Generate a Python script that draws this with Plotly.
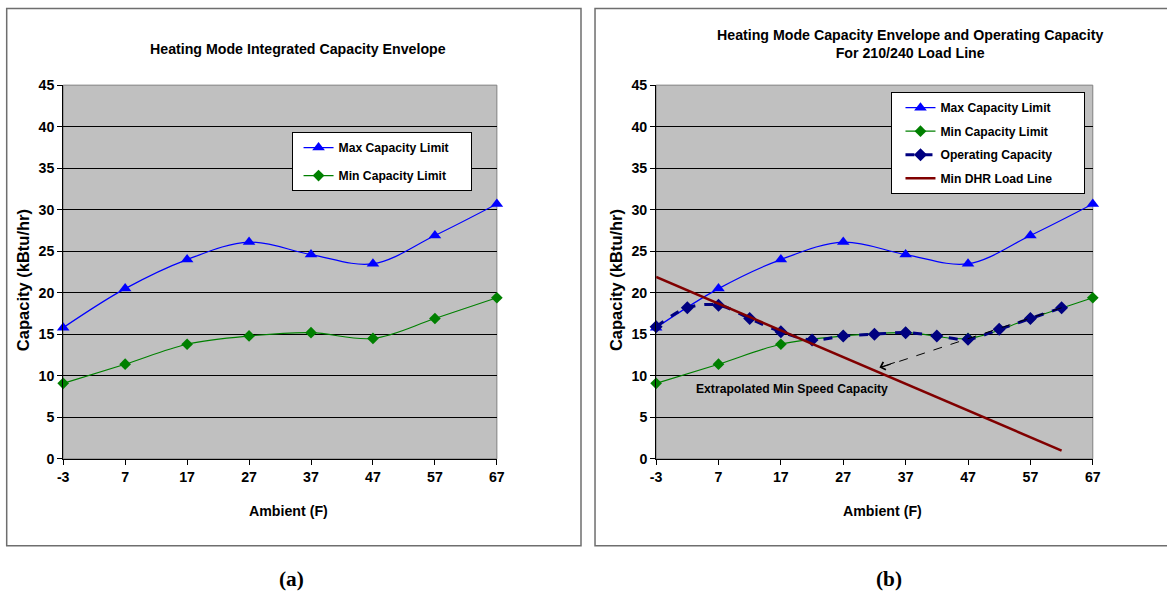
import plotly.graph_objects as go

# ---- data ----
x_env = [-3, 7, 17, 27, 37, 47, 57, 67]
max_cap = [15.8, 20.5, 24.0, 26.1, 24.6, 23.5, 26.9, 30.7]
min_cap = [9.1, 11.4, 13.8, 14.8, 15.2, 14.5, 16.9, 19.4]
x_op = [-3, 2, 7, 12, 17, 22, 27, 32, 37, 42, 47, 52, 57, 62]
op_cap = [15.9, 18.2, 18.5, 16.9, 15.3, 14.3, 14.8, 15.0, 15.2, 14.8, 14.4, 15.6, 16.9, 18.2]
x_load = [-3, 62]
load_cap = [21.9, 1.0]
x_ticks = [-3, 7, 17, 27, 37, 47, 57, 67]
x_ticktext = ["-3", "7", "17", "27", "37", "47", "57", "67"]
y_ticks = [0, 5, 10, 15, 20, 25, 30, 35, 40, 45]

W, H = 1167, 592
M = 8                      # page body margin
SX, SY = (W + 2 * M) / W, (H + 2 * M) / H   # page-to-picture compensation
FONT = "Liberation Sans"
BLUE, GREEN, NAVY, RED = "#0000FF", "#008000", "#000080", "#800000"
NB = "\u00a0"

def px(x):
    # target picture pixel -> paper fraction
    return (x * SX - M) / W

def py(y):
    return (H - (y * SY - M)) / H

def fs(s):
    return round(s * SX, 2)

fig = go.Figure()

# left panel
fig.add_trace(go.Scatter(x=x_env, y=max_cap, name="Max Capacity Limit" + NB * 5, mode="lines+markers",
                         line=dict(color=BLUE, width=1.2, shape="spline"),
                         marker=dict(symbol="triangle-up", size=11, color=BLUE),
                         xaxis="x", yaxis="y", legend="legend", legendgroup="a1", cliponaxis=False))
fig.add_trace(go.Scatter(x=x_env, y=min_cap, name="Min Capacity Limit" + NB * 5, mode="lines+markers",
                         line=dict(color=GREEN, width=1.2, shape="spline"),
                         marker=dict(symbol="diamond", size=9, color=GREEN),
                         xaxis="x", yaxis="y", legend="legend", legendgroup="a2", cliponaxis=False))

# right panel
PAD = NB * 8
fig.add_trace(go.Scatter(x=x_env, y=max_cap, name="Max Capacity Limit" + PAD, mode="lines+markers",
                         line=dict(color=BLUE, width=1.2, shape="spline"),
                         marker=dict(symbol="triangle-up", size=11, color=BLUE),
                         xaxis="x2", yaxis="y2", legend="legend2", legendgroup="b1", cliponaxis=False))
fig.add_trace(go.Scatter(x=x_env, y=min_cap, name="Min Capacity Limit" + PAD, mode="lines+markers",
                         line=dict(color=GREEN, width=1.2, shape="spline"),
                         marker=dict(symbol="diamond", size=9, color=GREEN),
                         xaxis="x2", yaxis="y2", legend="legend2", legendgroup="b2", cliponaxis=False))
fig.add_trace(go.Scatter(x=x_op, y=op_cap, name="Operating Capacity" + PAD, mode="lines+markers",
                         line=dict(color=NAVY, width=3, shape="spline", dash="dash"),
                         marker=dict(symbol="diamond", size=10, color=NAVY),
                         xaxis="x2", yaxis="y2", legend="legend2", legendgroup="b3", cliponaxis=False))
fig.add_trace(go.Scatter(x=x_load, y=load_cap, name="Min DHR Load Line" + PAD, mode="lines",
                         line=dict(color=RED, width=2.5),
                         xaxis="x2", yaxis="y2", legend="legend2", legendgroup="b4", cliponaxis=False))

tickfont = dict(family=FONT, size=fs(14), color="black", weight="bold")
axis_common = dict(range=[-3, 67], tickvals=x_ticks, ticktext=x_ticktext, ticks="outside", ticklen=5,
                   tickcolor="black", showline=True, linecolor="black", linewidth=1, showgrid=False,
                   zeroline=False, tickfont=tickfont)
yaxis_common = dict(range=[0, 45], tickvals=y_ticks, ticks="outside", ticklen=5, tickcolor="black",
                    showline=True, linecolor="black", linewidth=1, showgrid=True, gridcolor="black",
                    gridwidth=1, zeroline=False, tickfont=tickfont)

legfont = dict(family=FONT, size=fs(12), color="black", weight="bold")
y_dom = [py(459), py(85)]
fig.update_layout(
    width=W, height=H, margin=dict(l=0, r=0, t=0, b=0),
    paper_bgcolor="white", plot_bgcolor="#C0C0C0",
    xaxis=dict(domain=[px(65), px(498)], anchor="y", **axis_common),
    yaxis=dict(domain=y_dom, anchor="x", **yaxis_common),
    xaxis2=dict(domain=[px(657), px(1093)], anchor="y2", **axis_common),
    yaxis2=dict(domain=y_dom, anchor="x2", **yaxis_common),
    legend=dict(x=px(293), y=py(132), xanchor="left", yanchor="top", bgcolor="white",
                bordercolor="black", borderwidth=1, traceorder="grouped", tracegroupgap=9,
                indentation=6, font=legfont),
    legend2=dict(x=px(892), y=py(92), xanchor="left", yanchor="top", bgcolor="white",
                 bordercolor="black", borderwidth=1, traceorder="grouped", tracegroupgap=4.5,
                 indentation=8, font=legfont),
    showlegend=True,
)

# frames & plot-area borders
shapes = [
    dict(type="rect", xref="paper", yref="paper", x0=0.0006, x1=px(582), y0=py(546), y1=0.999,
         line=dict(color="#6E6E6E", width=1.5), layer="below"),
    dict(type="rect", xref="paper", yref="paper", x0=px(596), x1=1.05, y0=py(546), y1=0.999,
         line=dict(color="#6E6E6E", width=1.5), layer="below"),
    dict(type="rect", xref="x domain", yref="y domain", x0=0, x1=1, y0=0, y1=1,
         line=dict(color="#808080", width=1), layer="below"),
    dict(type="rect", xref="x2 domain", yref="y2 domain", x0=0, x1=1, y0=0, y1=1,
         line=dict(color="#808080", width=1), layer="below"),
    dict(type="line", xref="x2", yref="y2", x0=62, y0=18.2, x1=33.0, y1=11.0,
         line=dict(color="black", width=1, dash="dash")),
]
fig.update_layout(shapes=shapes)

tfont = dict(family=FONT, size=fs(14), color="black", weight="bold")
afont = dict(family=FONT, size=fs(14), color="black", weight="bold")
yfont = dict(family=FONT, size=16.5, color="black", weight="bold")
lfont = dict(family="Liberation Serif", size=fs(21), color="black", weight="bold")
annots = [
    dict(text="Heating Mode Integrated Capacity Envelope", x=px(299), y=py(49), xref="paper", yref="paper",
         showarrow=False, font=tfont, xanchor="center", yanchor="middle"),
    dict(text="Heating Mode Capacity Envelope and Operating Capacity<br>For 210/240 Load Line",
         x=px(910), y=py(43.5), xref="paper", yref="paper", showarrow=False, font=tfont,
         xanchor="center", yanchor="middle"),
    dict(text="Ambient (F)", x=px(290), y=py(511), xref="paper", yref="paper", showarrow=False,
         font=afont, xanchor="center", yanchor="middle"),
    dict(text="Ambient (F)", x=px(883), y=py(511), xref="paper", yref="paper", showarrow=False,
         font=afont, xanchor="center", yanchor="middle"),
    dict(text="Capacity (kBtu/hr)", x=px(25), y=py(280), xref="paper", yref="paper", showarrow=False,
         font=yfont, textangle=-90, xanchor="center", yanchor="middle"),
    dict(text="Capacity (kBtu/hr)", x=px(617), y=py(280), xref="paper", yref="paper", showarrow=False,
         font=yfont, textangle=-90, xanchor="center", yanchor="middle"),
    dict(text="Extrapolated Min Speed Capacity", x=18.8, y=8.4, xref="x2", yref="y2", showarrow=False,
         font=dict(family=FONT, size=fs(12), color="black", weight="bold"),
         xanchor="center", yanchor="middle"),
    dict(text="", x=32.8, y=11.0, xref="x2", yref="y2", ax=35.5, ay=11.67, axref="x2", ayref="y2",
         showarrow=True, arrowhead=4, arrowsize=1.6, arrowwidth=1, arrowcolor="black"),
    dict(text="(a)", x=px(293), y=py(579), xref="paper", yref="paper", showarrow=False,
         font=lfont, xanchor="center", yanchor="middle"),
    dict(text="(b)", x=px(890), y=py(579), xref="paper", yref="paper", showarrow=False,
         font=lfont, xanchor="center", yanchor="middle"),
]
fig.update_layout(annotations=annots)

fig.write_html("out.html")
